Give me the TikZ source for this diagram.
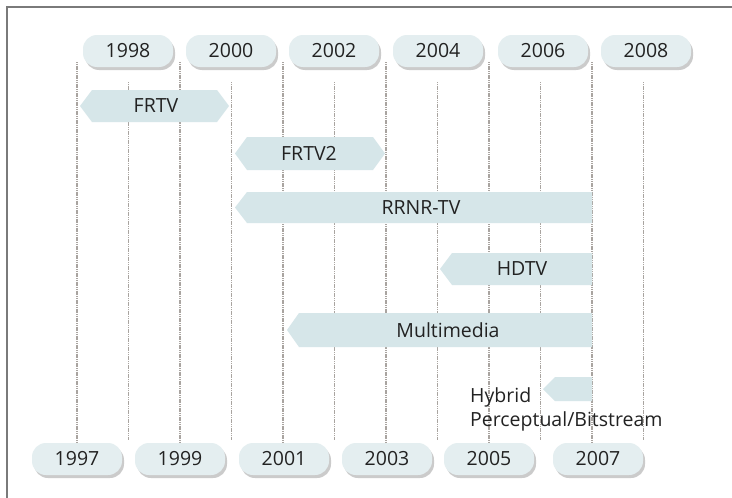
\documentclass[tikz,border=0pt]{standalone}
\usepackage{fontspec}
\setmainfont{Open Sans}
\usetikzlibrary{shadows}
\definecolor{pillfill}{HTML}{E4EEF0}
\definecolor{barfill}{HTML}{D6E6E9}
\definecolor{gridline}{HTML}{A9A4A0}
\definecolor{framec}{HTML}{7A7A7A}
\definecolor{txt}{HTML}{222222}
\tikzset{
  pill/.style={draw=none, fill=pillfill, rounded corners=14pt, minimum width=90pt, minimum height=32pt,
    inner sep=0pt, text=txt, font=\fontsize{19.5}{22}\selectfont,
    drop shadow={shadow xshift=2pt, shadow yshift=-3pt, fill=gray!50, opacity=0.8}},
  bar/.style={fill=barfill, draw=none},
  barlabel/.style={text=txt, font=\fontsize{19.5}{22}\selectfont, inner sep=0pt},
  gridln/.style={draw=gridline, line width=1.5pt, dash pattern=on 1.2pt off 0.6pt},
  framel/.style={draw=framec, line width=2pt},
}
\begin{document}
\begin{tikzpicture}[x=1pt,y=-1pt]
\useasboundingbox (0,0) rectangle (732,498);
\fill[white] (0,0) rectangle (732,498);
% frame
\draw[framel] (7,498) -- (7,7) -- (732,7);
% grid lines: odd years
\foreach \xx in {77,180,283,386,489,592} {\draw[gridln] (\xx,62) -- (\xx,443);}
% even years
\foreach \xx in {128.5,231.5,334.5,437.5,540.5,643.5} {\draw[gridln] (\xx,82) -- (\xx,440);}
% top pills
\node[pill] (y1998) at (128,51) {1998};
\node[pill] (y2000) at (231,51) {2000};
\node[pill] (y2002) at (334,51) {2002};
\node[pill] (y2004) at (438,51) {2004};
\node[pill] (y2006) at (543,51) {2006};
\node[pill] (y2008) at (646,51) {2008};
% bottom pills
\node[pill] (y1997) at (77,459) {1997};
\node[pill] (y1999) at (180,459) {1999};
\node[pill] (y2001) at (284,459) {2001};
\node[pill] (y2003) at (387,459) {2003};
\node[pill] (y2005) at (489,459) {2005};
\node[pill] (y2007) at (598,459) {2007};
% bars
\fill[bar] (80,106) -- (92,90) -- (217,90) -- (229,106) -- (217,122) -- (92,122) -- cycle;
\node[barlabel] (frtv) at (156,106) {FRTV};
\fill[bar] (235,153.5) -- (247,137) -- (373,137) -- (385,153.5) -- (373,170) -- (247,170) -- cycle;
\node[barlabel] (frtv2) at (309,153.5) {FRTV2};
\fill[bar] (235,207.5) -- (247,192) -- (592,192) -- (592,223) -- (247,223) -- cycle;
\node[barlabel] (rrnr) at (421,207.5) {RRNR-TV};
\fill[bar] (440,269) -- (452,253) -- (592,253) -- (592,285) -- (452,285) -- cycle;
\node[barlabel] (hdtv) at (522,269) {HDTV};
\fill[bar] (287,330) -- (299,313) -- (592,313) -- (592,347) -- (299,347) -- cycle;
\node[barlabel] (mm) at (448,330) {Multimedia};
\fill[bar] (543,389) -- (555,377) -- (592,377) -- (592,401) -- (555,401) -- cycle;
\node[barlabel, anchor=north west, align=left, font=\fontsize{19.5}{24}\selectfont] (hyb) at (470,387) {Hybrid\\Perceptual/Bitstream};
\end{tikzpicture}
\end{document}
